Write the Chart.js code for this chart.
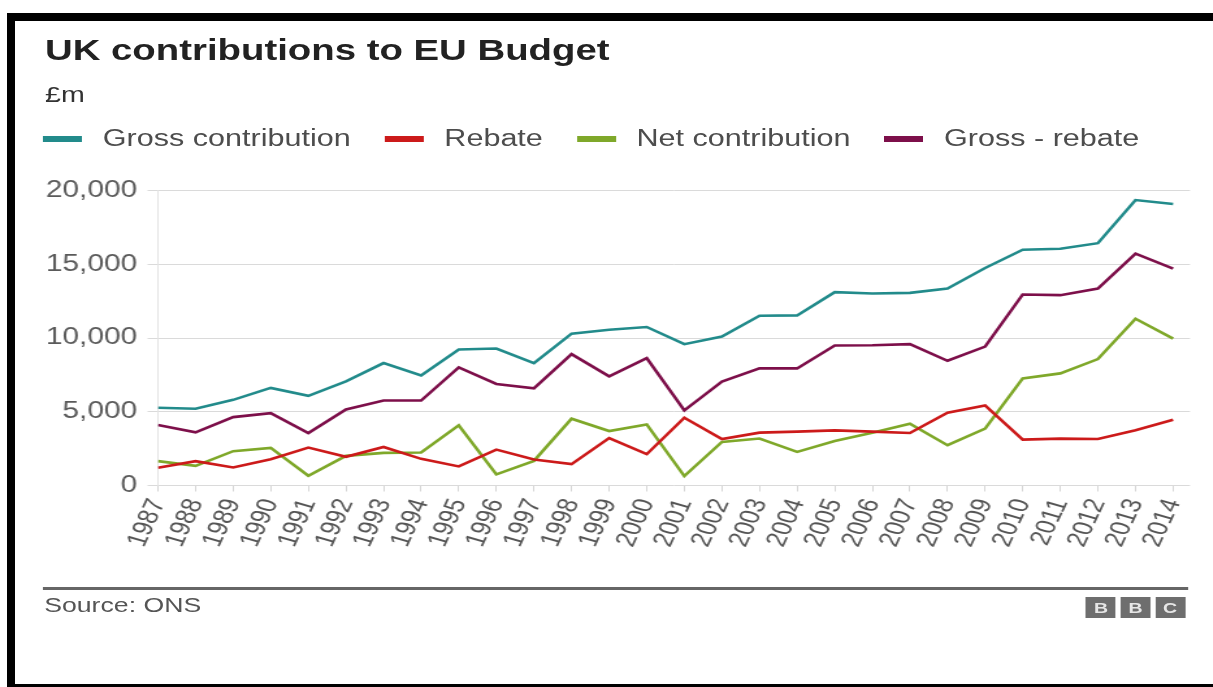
<!DOCTYPE html>
<html>
<head>
<meta charset="utf-8">
<script src="https://cdn.jsdelivr.net/npm/chart.js@4/dist/chart.umd.min.js"></script>
<style>
html,body{margin:0;padding:0;background:#fff;width:1213px;height:687px;overflow:hidden;font-family:"Liberation Sans",Arial,Helvetica,sans-serif;}
#frame{position:absolute;left:7px;top:13px;width:1300px;height:663px;border:8px solid #000;box-sizing:content-box;}
#stage{position:absolute;left:0;top:0;width:933px;height:687px;transform:scaleX(1.3);transform-origin:0 0;}
#title{position:absolute;left:34.6px;top:35px;font-weight:bold;font-size:29.5px;line-height:29.5px;color:#222;white-space:nowrap;}
#unit{position:absolute;left:34.6px;top:84.4px;font-size:22px;line-height:22px;color:#333;}
#legend{position:absolute;left:33.1px;top:127.1px;display:flex;align-items:center;font-size:23.5px;line-height:23.5px;color:#4d4d4d;white-space:nowrap;}
#legend .item{display:flex;align-items:center;margin-right:26px;}
#legend .bar{width:30px;height:6px;margin-right:16px;}
#wrap{position:absolute;left:0;top:169px;width:933px;height:397px;}
#sep{position:absolute;left:33.1px;top:587px;width:881px;height:2.5px;background:#666;}
#source{position:absolute;left:34px;top:594.6px;font-size:20.5px;line-height:20.5px;color:#555;}
#bbc{position:absolute;left:835.4px;top:597px;display:flex;}
#bbc span{display:block;width:23px;height:21px;margin-right:3.6px;background:#6e6e6e;color:#e6e6e6;font-weight:bold;font-size:15px;line-height:21px;text-align:center;}
</style>
</head>
<body>
<div id="frame"></div>
<div id="stage">
  <div id="title">UK contributions to EU Budget</div>
  <div id="unit">£m</div>
  <div id="legend"></div>
  <div id="wrap"><canvas id="c" width="933" height="397"></canvas></div>
  <div id="sep"></div>
  <div id="source">Source: ONS</div>
  <div id="bbc"><span>B</span><span>B</span><span>C</span></div>
</div>
<script>
const years = [1987,1988,1989,1990,1991,1992,1993,1994,1995,1996,1997,1998,1999,2000,2001,2002,2003,2004,2005,2006,2007,2008,2009,2010,2011,2012,2013,2014];
const xTickLabels = ['1987','1988','1989','1990','1991','1992','1993','1994','1995','1996','1997','1998','1999','2000','2001','2002','2003','2004','2005','2006','2007','2008','2009','2010','2011','2012','2013','2014'];
const grossContribution = [5274,5207,5813,6623,6084,7070,8309,7475,9229,9296,8309,10305,10575,10758,9591,10104,11521,11543,13119,13029,13074,13367,14760,15999,16066,16447,19371,19101];
const rebate = [1200,1652,1225,1787,2573,1945,2617,1810,1293,2438,1767,1450,3224,2125,4600,3157,3588,3656,3744,3656,3562,4937,5430,3116,3184,3160,3744,4465];
const netContribution = [1652,1336,2327,2550,661,2010,2213,2236,4081,755,1673,4532,3696,4148,641,2954,3184,2280,3022,3588,4195,2732,3858,7271,7608,8580,11318,9969];
const grossMinusRebate = [4101,3609,4642,4911,3562,5160,5767,5767,8013,6893,6596,8917,7406,8647,5093,7048,7946,7946,9497,9520,9591,8465,9430,12963,12917,13367,15730,14717];
const yTickValues = [0,5000,10000,15000,20000];
const yTickLabels = ['0','5,000','10,000','15,000','20,000'];
const seriesNames = ['Gross contribution','Rebate','Net contribution','Gross - rebate'];
const seriesColors = ['#228b8b','#cc1a1a','#7fa82a','#7d0f4a'];
const seriesValues = [grossContribution, rebate, netContribution, grossMinusRebate];

const legend = document.getElementById('legend');
seriesNames.forEach((n,i)=>{
  const it = document.createElement('div'); it.className='item';
  const b = document.createElement('span'); b.className='bar'; b.style.background=seriesColors[i];
  const t = document.createElement('span'); t.textContent=n;
  it.appendChild(b); it.appendChild(t); legend.appendChild(it);
});

Chart.defaults.font.family = "'Liberation Sans', Arial, Helvetica, sans-serif";

const datasets = seriesNames.map((n,i)=>({
  label:n,
  data: years.map((yr,j)=>({x:yr, y:seriesValues[i][j]})),
  borderColor: seriesColors[i],
  backgroundColor: seriesColors[i],
  borderWidth: 2.6,
  pointRadius: 0,
  tension: 0,
  fill: false
}));

new Chart(document.getElementById('c'), {
  type:'line',
  data:{datasets},
  options:{
    responsive:false,
    animation:false,
    layout:{padding:{top:20,right:17.6,bottom:0,left:0}},
    plugins:{legend:{display:false},tooltip:{enabled:false},title:{display:false}},
    scales:{
      x:{
        type:'linear', min:1987, max:2014.45,
        afterBuildTicks:(s)=>{ s.ticks = years.map(v=>({value:v})); },
        afterFit:(s)=>{ s.height = 80.5; s.paddingLeft = 0; s.paddingRight = 0; },
        grid:{drawOnChartArea:false, drawTicks:true, tickLength:6, color:'#d6d6d6', lineWidth:1},
        border:{display:false},
        ticks:{autoSkip:false, minRotation:70, maxRotation:70, padding:4, color:'#555', font:{size:22},
          callback:(v)=>xTickLabels[years.indexOf(v)]}
      },
      y:{
        min:0, max:20000,
        afterBuildTicks:(s)=>{ s.ticks = yTickValues.map(v=>({value:v})); },
        afterFit:(s)=>{ s.width = 121.5; },
        grid:{color:'#dadada', tickLength:8, lineWidth:1},
        border:{display:true, color:'#e4e4e4', width:1},
        ticks:{padding:8, color:'#5a5a5a', font:{size:23},
          callback:(v)=>yTickLabels[yTickValues.indexOf(v)]}
      }
    }
  }
});
</script>
</body>
</html>
